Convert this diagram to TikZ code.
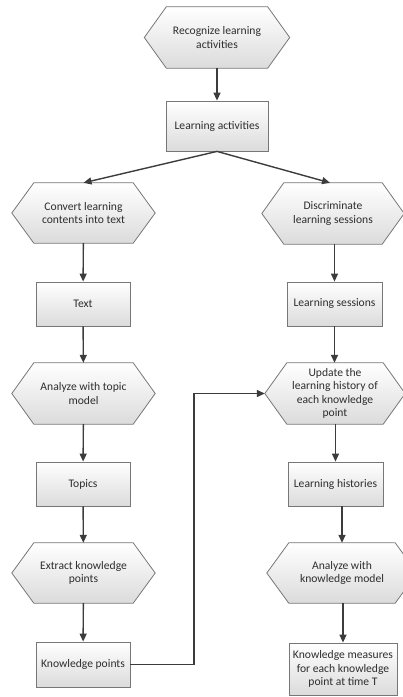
\documentclass[tikz,border=0pt]{standalone}
\usepackage{fontspec}
\setmainfont{Carlito}
\usetikzlibrary{arrows.meta,backgrounds}
\definecolor{txt}{HTML}{2E2E2E}
\definecolor{edge}{HTML}{777777}
\definecolor{arr}{HTML}{3C3C3C}
\tikzset{
  hexnode/.style={draw=none,inner sep=0pt,align=center,text=txt,font=\fontsize{11.6}{13.6}\selectfont,minimum height=60pt},
  boxnode/.style={draw=edge,line width=0.8pt,top color=white,bottom color=black!14,inner sep=0pt,align=center,text=txt,font=\fontsize{11.6}{13.6}\selectfont},
  hexbody/.style={draw=edge,line width=0.8pt,top color=white,bottom color=black!14},
  conn/.style={draw=arr,line width=1.4pt,-{Triangle[length=8pt,width=7pt]}},
  link/.style={draw=arr,line width=1.4pt}
}
\newcommand\hexbg[1]{\path[hexbody] (#1.west) -- ([xshift=22pt]#1.north west) -- ([xshift=-22pt]#1.north east) -- (#1.east) -- ([xshift=-22pt]#1.south east) -- ([xshift=22pt]#1.south west) -- cycle;}
\begin{document}
\begin{tikzpicture}[x=1pt,y=-1pt]
\useasboundingbox (0,0) rectangle (403,697);
% hexagon nodes
\node[hexnode,minimum width=145pt,minimum height=61pt] (rec) at (217,37.5) {Recognize learning\\activities};
\node[hexnode,minimum width=143pt] (conv) at (83.5,213) {Convert learning\\contents into text};
\node[hexnode,minimum width=143pt,minimum height=61pt] (atm) at (83.5,393.5) {Analyze with topic\\model};
\node[hexnode,minimum width=143pt] (ekp) at (83.5,573) {Extract knowledge\\points};
\node[hexnode,minimum width=142pt,minimum height=61pt] (disc) at (333,213.5) {Discriminate\\learning sessions};
\node[hexnode,minimum width=140pt,minimum height=61pt] (upd) at (335,393.5) {Update the\\learning history of\\each knowledge\\point};
\node[hexnode,minimum width=150pt] (akm) at (342,573) {Analyze with\\knowledge model};
\begin{scope}[on background layer]
\hexbg{rec}\hexbg{conv}\hexbg{atm}\hexbg{ekp}\hexbg{disc}\hexbg{upd}\hexbg{akm}
\end{scope}
% box nodes
\node[boxnode,minimum width=102pt,minimum height=50pt] (la) at (217,126) {Learning activities};
\node[boxnode,minimum width=94pt,minimum height=44pt] (text) at (83,304) {Text};
\node[boxnode,minimum width=94pt,minimum height=44pt] (topics) at (83,484) {Topics};
\node[boxnode,minimum width=94pt,minimum height=45pt] (kp) at (83,664.5) {Knowledge points};
\node[boxnode,minimum width=95pt,minimum height=44pt] (ls) at (334.5,304) {Learning sessions};
\node[boxnode,minimum width=95pt,minimum height=44pt] (lh) at (335.5,484) {Learning histories};
\node[boxnode,minimum width=108pt,minimum height=52pt] (km) at (343,669) {Knowledge measures\\for each knowledge\\point at time T};
\coordinate (c1) at (194,664.5);
\coordinate (c2) at (194,393.5);
% connectors
\draw[conn] (rec) -- (la);
\draw[conn] (la.south) -- (conv.north);
\draw[conn] (la.south) -- ([xshift=-3pt]disc.north);
\draw[conn] (conv) -- (text);
\draw[conn] (text) -- (atm);
\draw[conn] (atm) -- (topics);
\draw[conn] (topics) -- (ekp);
\draw[conn] (ekp) -- (kp);
\draw[conn] (kp.east) -- (c1) -- (c2) -- (upd.west);
\draw[conn] (disc.south -| ls.north) -- (ls.north);
\draw[conn] (ls.south) -- (ls.south |- upd.north);
\draw[conn] (upd.south -| lh.north) -- (lh.north);
\draw[conn] (lh.south -| akm.north) -- (akm.north);
\draw[conn] (akm.south -| km.north) -- (km.north);
\end{tikzpicture}
\end{document}
